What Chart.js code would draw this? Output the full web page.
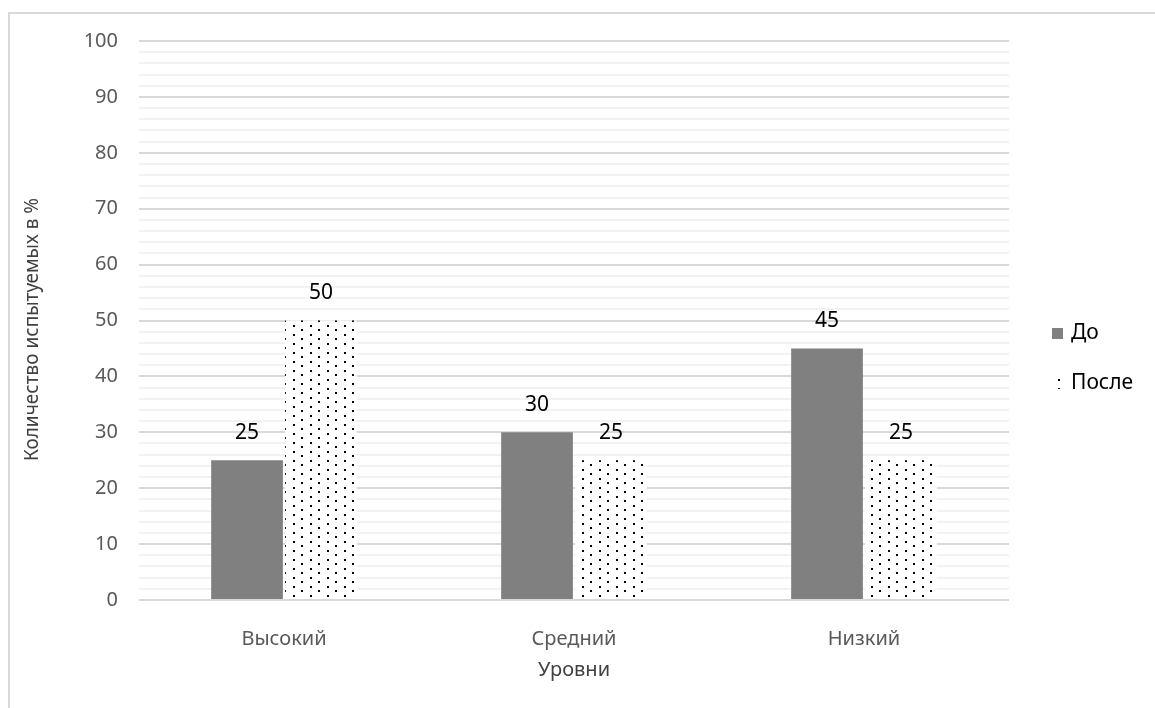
<!DOCTYPE html>
<html>
<head>
<meta charset="utf-8">
<script src="https://cdn.jsdelivr.net/npm/chart.js@4.4.1/dist/chart.umd.min.js"></script>
<style>
  html, body { margin: 0; padding: 0; background: #fff; }
  #wrap { position: relative; width: 1155px; height: 708px; }
  #frame { position: absolute; left: 8px; top: 12px; right: -2px; bottom: -2px; border-left: 2px solid #d9d9d9; border-top: 2px solid #d9d9d9; }
  canvas { position: absolute; left: 0; top: 0; }
</style>
</head>
<body>
<div id="wrap">
  <div id="frame"></div>
  <canvas id="myChart" width="1155" height="708"></canvas>
</div>
<script>
const levels = ["Высокий", "Средний", "Низкий"];
const beforeValues = [25, 30, 45];
const afterValues = [50, 25, 25];
const seriesNames = ["До", "После"];
const yTitle = "Количество испытуемых в %";
const xTitle = "Уровни";

const FONT = "'Noto Sans', 'Open Sans', sans-serif";

// dotted fill like the office "5%" pattern
function makeDots() {
  const tile = document.createElement("canvas");
  tile.width = 17;
  tile.height = 9;
  const t = tile.getContext("2d");
  t.fillStyle = "#fff";
  t.fillRect(0, 0, 17, 9);
  t.fillStyle = "#000";
  t.fillRect(4, 1, 2, 2);
  t.fillRect(12, 5, 2, 2);
  return document.getElementById("myChart").getContext("2d").createPattern(tile, "repeat");
}
const dots = makeDots();

const valueLabels = {
  id: "valueLabels",
  afterDatasetsDraw(chart) {
    const ctx = chart.ctx;
    ctx.save();
    ctx.font = "21px " + FONT;
    ctx.fillStyle = "#000";
    ctx.textAlign = "center";
    ctx.textBaseline = "middle";
    chart.data.datasets.forEach((ds, i) => {
      chart.getDatasetMeta(i).data.forEach((bar, j) => {
        ctx.fillText(ds.data[j], bar.x, bar.y - 27);
      });
    });
    ctx.restore();
  },
};

// legend on the right, plus the y title (sits a bit below the plot middle)
const sideLegend = {
  id: "sideLegend",
  afterDraw(chart) {
    const ctx = chart.ctx;
    const rows = [
      { y: 333, fill: "#808080" },
      { y: 383, fill: dots },
    ];
    ctx.save();
    ctx.font = "21px " + FONT;
    ctx.textBaseline = "middle";
    rows.forEach((r, i) => {
      ctx.fillStyle = r.fill;
      ctx.fillRect(1052, r.y - 5, 11, 11);
      ctx.fillStyle = "#000";
      ctx.fillText(seriesNames[i], 1071, r.y);
    });

    const area = chart.chartArea;
    ctx.translate(33, (area.top + area.bottom) / 2 + 9);
    ctx.rotate(-Math.PI / 2);
    ctx.font = "19px " + FONT;
    ctx.fillStyle = "#404040";
    ctx.textAlign = "center";
    ctx.fillText(yTitle, 0, 0);
    ctx.restore();
  },
};

const ctx = document.getElementById("myChart");

const myChart = new Chart(ctx, {
  type: "bar",
  data: {
    labels: levels,
    datasets: [
      {
        label: seriesNames[0],
        data: beforeValues,
        backgroundColor: "#808080",
        borderWidth: 0,
      },
      {
        label: seriesNames[1],
        data: afterValues,
        backgroundColor: dots,
        borderWidth: 0,
      },
    ],
  },
  options: {
    responsive: false,
    animation: false,
    categoryPercentage: 0.51,
    barPercentage: 0.97,
    layout: { padding: { top: 41, right: 146, left: 0, bottom: 0 } },
    plugins: {
      legend: { display: false },
      tooltip: { enabled: false },
    },
    scales: {
      x: {
        grid: { display: false },
        border: { display: false },
        ticks: { color: "#595959", font: { family: FONT, size: 20 }, padding: 19 },
        title: {
          display: true,
          text: xTitle,
          color: "#404040",
          font: { family: FONT, size: 20 },
          padding: { top: 4, bottom: 26 },
        },
        afterFit(scale) {
          scale.height = 108;
        },
      },
      y: {
        min: 0,
        max: 100,
        ticks: {
          stepSize: 2,
          autoSkip: false,
          color: "#595959",
          font: { family: FONT, size: 20 },
          padding: 21,
          callback: (v) => (v % 10 === 0 ? v : ""),
        },
        grid: {
          drawTicks: false,
          lineWidth: 2,
          color: (c) => (c.tick && c.tick.value % 10 === 0 ? "#d9d9d9" : "#f2f2f2"),
        },
        border: { display: false },
        afterFit(scale) {
          scale.width = 139;
        },
      },
    },
  },
  plugins: [valueLabels, sideLegend],
});
</script>
</body>
</html>
